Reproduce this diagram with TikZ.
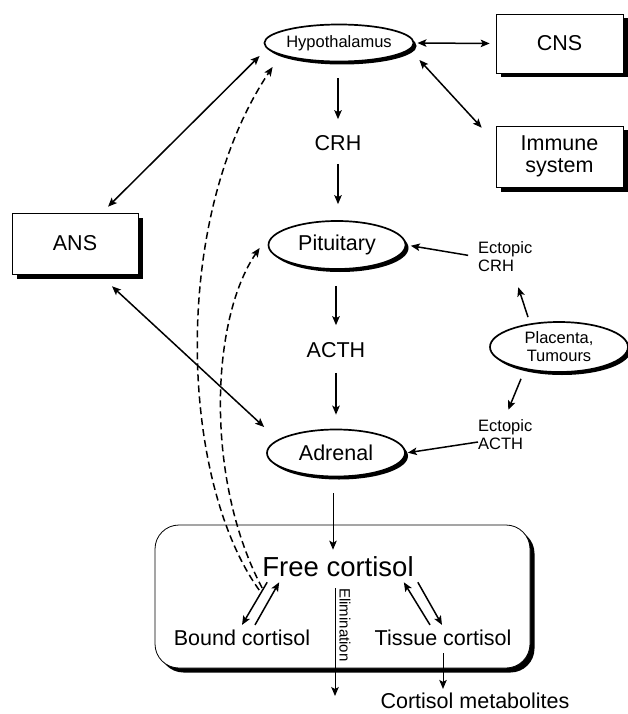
\documentclass[tikz,border=0pt]{standalone}
\usepackage{fontspec}
\setmainfont{Liberation Sans}
\usetikzlibrary{shapes.geometric,shadows,arrows.meta}

\begin{document}
\begin{tikzpicture}[x=1pt, y=-1pt, >={Stealth[length=9pt,width=7.5pt,inset=2pt]},
    organ/.style={shape=ellipse, draw, line width=1.7pt, fill=white, inner sep=0pt,
        drop shadow={shadow xshift=3pt, shadow yshift=-3pt, opacity=1, fill=black}},
    system/.style={shape=rectangle, draw, line width=0.6pt, fill=white, align=center,
        drop shadow={shadow xshift=4.5pt, shadow yshift=-4.5pt, opacity=1, fill=black}},
    bigtxt/.style={font=\fontsize{21.5}{22}\selectfont, inner sep=0pt},
    smalltxt/.style={font=\fontsize{16.5}{18}\selectfont, inner sep=0pt, align=left},
    link/.style={->, line width=1.5pt},
    thinlink/.style={->, line width=1pt}]
                    \useasboundingbox (0,0) rectangle (628,714);

                    % blood compartment
                    \node[system, rounded corners=24pt, line width=0.8pt, minimum width=375pt, minimum height=143pt] (blood) at (342.5,596.5) {};

                    \node[organ, minimum width=136pt, minimum height=37pt, font=\fontsize{16.5}{18}\selectfont] (hyp) at (339,43) {Hypothalamus};
                    \node[organ, minimum width=137pt, minimum height=48pt, bigtxt] (pit) at (337,245) {Pituitary};
                    \node[organ, minimum width=138pt, minimum height=47pt, bigtxt] (adr) at (336,453) {Adrenal};
                    \node[organ, minimum width=138pt, minimum height=50pt, smalltxt, align=center] (plac) at (559,347) {Placenta,\\Tumours};

                    \node[system, minimum width=127pt, minimum height=59pt, bigtxt] (cns) at (559.5,43.5) {CNS};
                    \node[system, minimum width=127pt, minimum height=61pt, bigtxt] (imm) at (559.5,156.5) {Immune\\system};
                    \node[system, minimum width=126pt, minimum height=61pt, bigtxt] (ans) at (75,243.5) {ANS};

                    \node[bigtxt] (crh) at (338,143) {CRH};
                    \node[bigtxt] (acth) at (336,350) {ACTH};
                    \node[smalltxt, anchor=west] (ecrh) at (478,257) {Ectopic\\CRH};
                    \node[smalltxt, anchor=west] (eacth) at (478,435) {Ectopic\\ACTH};

                    \node[font=\fontsize{27.5}{30}\selectfont, inner sep=0pt] (free) at (338,567) {Free cortisol};
                    \node[bigtxt] (bound) at (242,638) {Bound cortisol};
                    \node[bigtxt] (tissue) at (443,638) {Tissue cortisol};
                    \node[bigtxt] (meta) at (475,701) {Cortisol metabolites};
                    \coordinate (out) at (335,696);

                    % axis
                    \draw[link, shorten <=16pt, shorten >=16pt] (crh.north |- hyp.south) -- (crh.north);
                    \draw[link, shorten <=13pt, shorten >=16pt] (crh.south) -- (crh.south |- pit.north);
                    \draw[link, shorten <=16pt, shorten >=17pt] (acth.north |- pit.south) -- (acth.north);
                    \draw[link, shorten <=15pt, shorten >=14pt] (acth.south) -- (acth.south |- adr.north);
                    \draw[thinlink] ([xshift=-3pt,yshift=-16pt]adr.south) -- ([xshift=-5pt,yshift=7pt]free.north);

                    \draw[link, <->, shorten <=3pt, shorten >=6pt] (hyp.east) -- (cns.west);
                    \draw[link, <->] ([xshift=5pt,yshift=-17pt]hyp.east) -- ([xshift=-14pt,yshift=-2pt]imm.north west);
                    \draw[link, <->] ([xshift=33pt,yshift=6pt]ans.north) -- ([xshift=-4pt,yshift=-13pt]hyp.west);
                    \draw[link, <->] ([xshift=37pt,yshift=-12pt]ans.south) -- ([xshift=-2pt,yshift=26pt]adr.west);

                    % ectopic sources
                    \draw[link, shorten <=10pt, shorten >=4.5pt] (ecrh.west) -- (pit.east);
                    \draw[link, shorten >=2pt] ([yshift=-7pt]eacth.west) -- (adr.east);
                    \draw[link] ([xshift=-31pt,yshift=4pt]plac.north) -- ([xshift=13pt,yshift=-15pt]ecrh.south);
                    \draw[link] ([xshift=-38pt,yshift=-6pt]plac.south) -- ([xshift=3pt,yshift=10pt]eacth.north);

                    % feedback
                    \draw[link, dashed, dash pattern=on 7pt off 4pt] ([xshift=-3pt,yshift=-23pt]free.west) .. controls (180,480) and (170,220) .. ([xshift=9pt,yshift=-24pt]hyp.west);
                    \draw[link, dashed, dash pattern=on 7pt off 4pt] ([yshift=-21pt]free.west) .. controls (205,480) and (210,320) .. ([xshift=-8pt,yshift=-3pt]pit.west);

                    % exchange
                    \draw[link] ([xshift=5pt,yshift=-5pt]free.south west) -- ([yshift=5pt]bound.north);
                    \draw[link] ([xshift=13pt,yshift=5pt]bound.north) -- ([xshift=17pt,yshift=-5pt]free.south west);
                    \draw[link] ([xshift=-13pt,yshift=5pt]tissue.north) -- ([xshift=-10pt,yshift=-5pt]free.south east);
                    \draw[link] ([xshift=4pt,yshift=-5pt]free.south east) -- ([xshift=-1pt,yshift=5pt]tissue.north);

                    \draw[thinlink] ([xshift=-3pt,yshift=-11pt]free.south) -- (out) node[pos=0.34, anchor=south, rotate=-90, font=\fontsize{15}{17}\selectfont, inner sep=4pt] {Elimination};
                    \draw[thinlink, shorten <=7pt, shorten >=4pt] (tissue.south) -- (tissue.south |- meta.north);
                \end{tikzpicture}
\end{document}
